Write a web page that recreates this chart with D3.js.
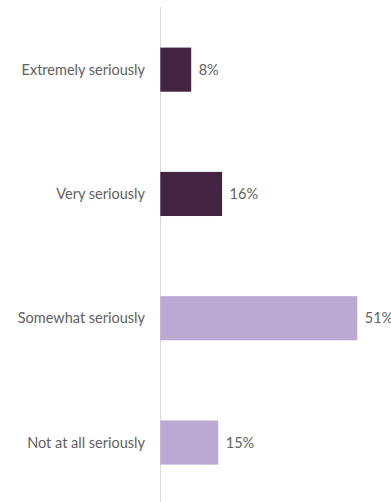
<!DOCTYPE html>
<html><head><meta charset="utf-8">
<script src="https://cdn.jsdelivr.net/npm/d3@7"></script>
<style>body{margin:0;background:#fff}svg{display:block}</style>
</head><body>
<script>
const categories = ["Extremely seriously","Very seriously","Somewhat seriously","Not at all seriously"];
const values = [8,16,51,15];
const colors = ["#432442","#432442","#bba8d3","#bba8d3"];
const valueLabels = ["8%","16%","51%","15%"];

const W=391,H=502;
const svg=d3.select("body").append("svg").attr("width",W).attr("height",H);
const x=d3.scaleLinear().domain([0,51]).range([160.3,357.3]);
const y=d3.scaleBand().domain(categories).range([7.5,504.7]).paddingInner(0.645).paddingOuter(0.3225);

svg.append("line").attr("x1",160.5).attr("x2",160.5).attr("y1",7).attr("y2",H)
  .attr("stroke","#d9d9d9").attr("stroke-width",1);

svg.selectAll("rect.bar").data(categories).join("rect").attr("class","bar")
  .attr("x",x(0)).attr("y",d=>y(d))
  .attr("width",(d,i)=>x(values[i])-x(0)).attr("height",y.bandwidth())
  .attr("fill",(d,i)=>colors[i]);

svg.selectAll("text.cat").data(categories).join("text").attr("class","cat")
  .attr("x",145).attr("y",d=>y(d)+y.bandwidth()/2).attr("dy","0.35em")
  .attr("text-anchor","end").attr("font-family","Lato, sans-serif")
  .attr("font-size",14.5).attr("fill","#616161").text(d=>d);

svg.selectAll("text.val").data(categories).join("text").attr("class","val")
  .attr("x",(d,i)=>x(values[i])+7.5).attr("y",d=>y(d)+y.bandwidth()/2).attr("dy","0.35em")
  .attr("font-family","Lato, sans-serif")
  .attr("font-size",14.5).attr("fill","#616161").text((d,i)=>valueLabels[i]);
</script>
</body></html>
